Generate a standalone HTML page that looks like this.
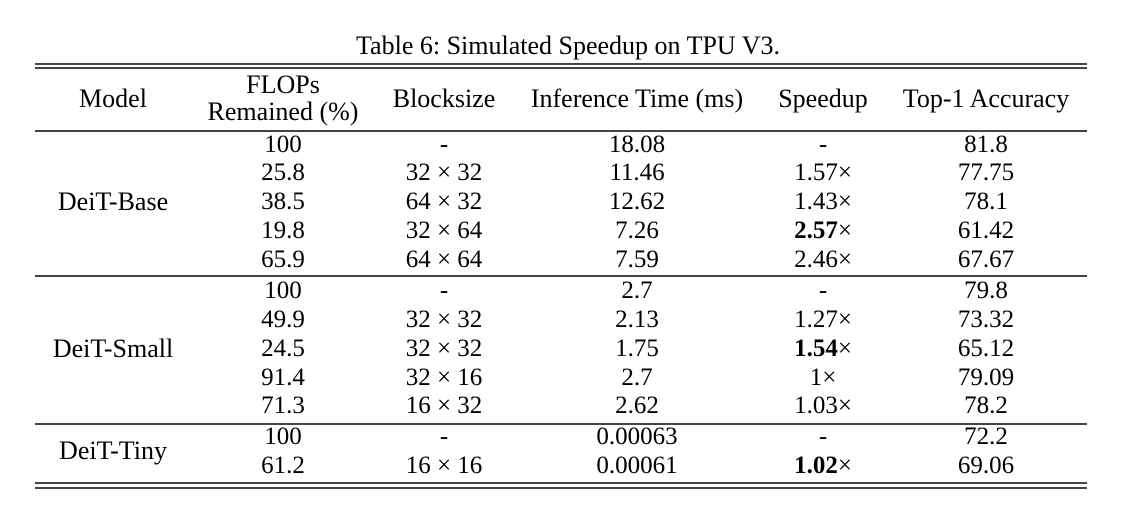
<!DOCTYPE html>
<html><head><meta charset="utf-8"><style>
body{margin:0;background:#fff;width:1138px;height:516px;position:relative;overflow:hidden;font-family:"Liberation Serif",serif;color:#000}
.t{position:absolute;height:30px;line-height:30px;font-size:26px;white-space:nowrap;transform:translateX(-50%)}
.n{font-size:25px}
.r{position:absolute;left:35px;width:1052px;background:#444}
b{font-weight:bold}
</style></head><body>
<div class="t" style="left:568px;top:31px">Table 6: Simulated Speedup on TPU V3.</div>
<div class="r" style="top:63px;height:2px"></div>
<div class="r" style="top:67px;height:2px"></div>
<div class="r" style="top:130px;height:2px"></div>
<div class="r" style="top:275px;height:1.5px"></div>
<div class="r" style="top:423px;height:1.5px"></div>
<div class="r" style="top:482px;height:2px"></div>
<div class="r" style="top:487px;height:2px"></div>
<div id="tbl"></div>
<script>
const headers=[["Model",113,99],["FLOPs",283,85],["Remained (%)",283,112],["Blocksize",444,99],["Inference Time (ms)",637,99],["Speedup",823,99],["Top-1 Accuracy",986,99]];
const groups=[["DeiT-Base",202],["DeiT-Small",349],["DeiT-Tiny",451]];
const flops=["100","25.8","38.5","19.8","65.9","100","49.9","24.5","91.4","71.3","100","61.2"];
const blocks=["-","32 × 32","64 × 32","32 × 64","64 × 64","-","32 × 32","32 × 32","32 × 16","16 × 32","-","16 × 16"];
const times=["18.08","11.46","12.62","7.26","7.59","2.7","2.13","1.75","2.7","2.62","0.00063","0.00061"];
const speed=["-","1.57×","1.43×","<b>2.57</b>×","2.46×","-","1.27×","<b>1.54</b>×","1×","1.03×","-","<b>1.02</b>×"];
const acc=["81.8","77.75","78.1","61.42","67.67","79.8","73.32","65.12","79.09","78.2","72.2","69.06"];
const rowY=[145,173,202,231,260,291,320,349,378,406,437,466];
const tbl=document.getElementById('tbl');
function add(txt,x,y,name,cls){const d=document.createElement('div');d.className='t'+(cls?' '+cls:'');d.innerHTML=txt;d.style.left=x+'px';d.style.top=(y-15)+'px';


tbl.appendChild(d);}
headers.forEach(h=>add(h[0],h[1],h[2],'header-cell'));
groups.forEach(g=>add(g[0],113,g[1],'model-label'));
const cols=[[flops,283,'flops-cell'],[blocks,444,'blocksize-cell'],[times,637,'time-cell'],[speed,823,'speedup-cell'],[acc,986,'accuracy-cell']];
rowY.forEach((y,i)=>cols.forEach(c=>add(c[0][i],c[1],y,c[2],'n')));
</script>
</body></html>
